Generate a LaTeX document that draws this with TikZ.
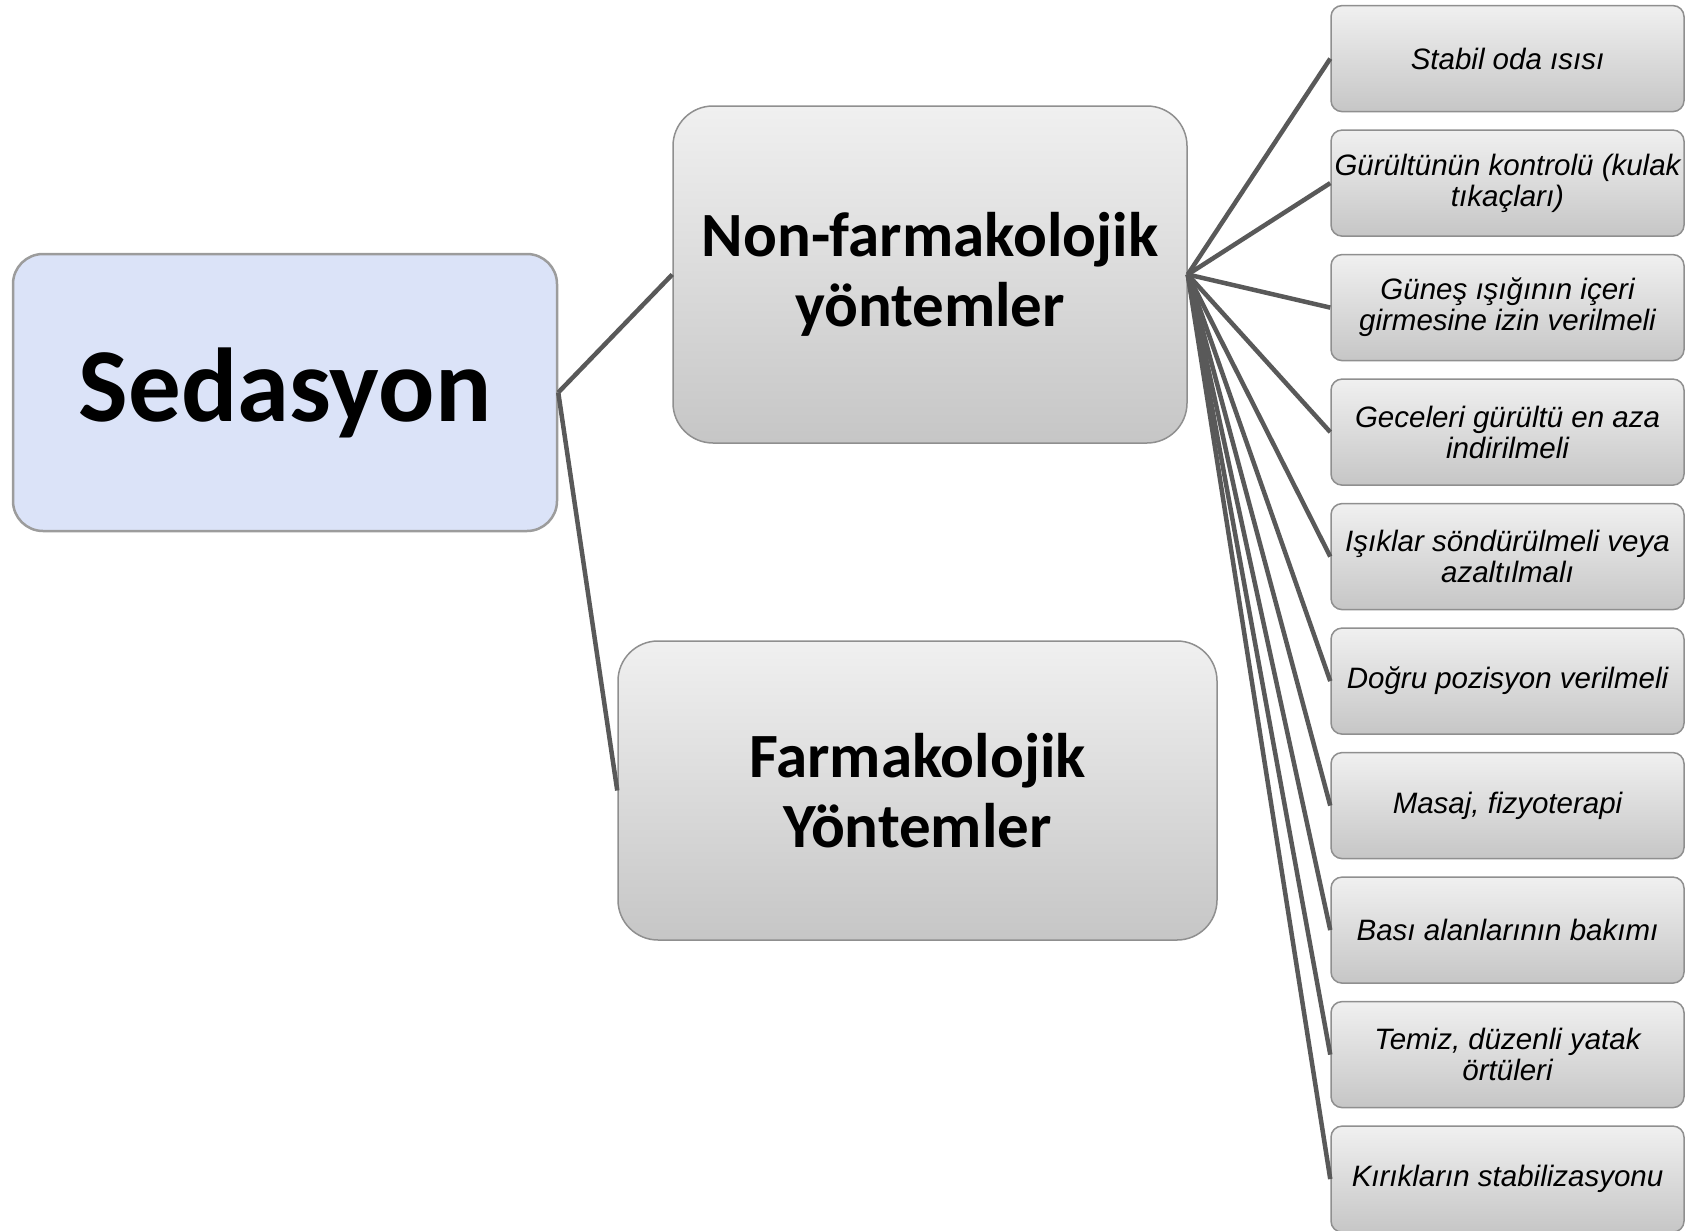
\documentclass[tikz,border=0pt]{standalone}
\usepackage{fontspec}
\setmainfont{Liberation Sans}
\newfontfamily\headfont{Carlito}
\definecolor{linegray}{HTML}{595959}
\definecolor{boxedge}{HTML}{8F8F8F}
\definecolor{gtop}{HTML}{F0F0F0}
\definecolor{gbot}{HTML}{C6C6C6}
\definecolor{rootfill}{HTML}{DBE3F8}
\definecolor{rootedge}{HTML}{9C9C9C}
\begin{document}
\begin{tikzpicture}[x=1pt,y=-1pt,
  conn/.style={draw=linegray,line width=4.5pt},
  rootbox/.style={rectangle,rounded corners=30pt,draw=rootedge,line width=2.5pt,
    fill=rootfill,inner sep=0pt,minimum width=544pt,minimum height=277pt,
    font=\headfont\bfseries\fontsize{105}{115}\selectfont},
  bigbox/.style={rectangle,rounded corners=40pt,draw=boxedge,line width=1.5pt,
    top color=gtop,bottom color=gbot,inner sep=0pt,align=center,
    font=\headfont\bfseries\fontsize{63}{70}\selectfont},
  itembox/.style={rectangle,rounded corners=11pt,draw=boxedge,line width=1.5pt,
    top color=gtop,bottom color=gbot,inner sep=0pt,align=center,
    minimum width=353pt,minimum height=106pt,
    font=\itshape\fontsize{29.5}{31}\selectfont}]
\useasboundingbox (0,0) rectangle (1686,1231);

% main topic and the two method groups
\node[rootbox] (sed) at (285,392.5) {Sedasyon};
\node[bigbox,minimum width=514pt,minimum height=337pt] (non) at (930,274.5)
  {Non-farmakolojik\\yöntemler};
\node[bigbox,minimum width=599pt,minimum height=299pt] (farm) at (917.5,790.5)
  {Farmakolojik\\Yöntemler};

% non-pharmacological measures
\node[itembox] (i1)  at (1507.5,58.6)   {Stabil oda ısısı};
\node[itembox] (i2)  at (1507.5,183.1)  {Gürültünün kontrolü (kulak\\tıkaçları)};
\node[itembox] (i3)  at (1507.5,307.6)  {Güneş ışığının içeri\\girmesine izin verilmeli};
\node[itembox] (i4)  at (1507.5,432.1)  {Geceleri gürültü en aza\\indirilmeli};
\node[itembox] (i5)  at (1507.5,556.6)  {Işıklar söndürülmeli veya\\azaltılmalı};
\node[itembox] (i6)  at (1507.5,681.1)  {Doğru pozisyon verilmeli};
\node[itembox] (i7)  at (1507.5,805.6)  {Masaj, fizyoterapi};
\node[itembox] (i8)  at (1507.5,930.1)  {Bası alanlarının bakımı};
\node[itembox] (i9)  at (1507.5,1054.6) {Temiz, düzenli yatak\\örtüleri};
\node[itembox] (i10) at (1507.5,1179.1) {Kırıkların stabilizasyonu};

% connectors
\draw[conn] (sed.east) -- (non.west);
\draw[conn] (sed.east) -- (farm.west);
\foreach \k in {1,...,10}{
  \draw[conn] (non.east) -- (i\k.west);
}
\end{tikzpicture}
\end{document}
